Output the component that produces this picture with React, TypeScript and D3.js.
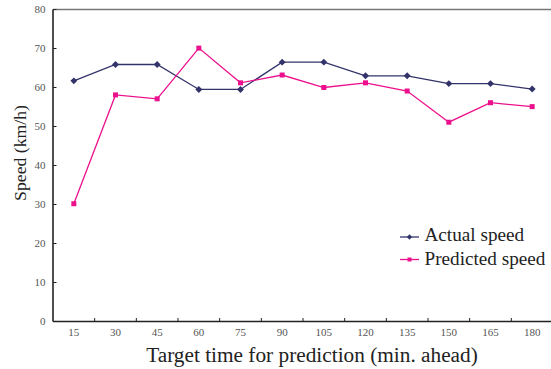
import React from "react";
import * as d3 from "d3";

const categories = ["15", "30", "45", "60", "75", "90", "105", "120", "135", "150", "165", "180"];
const actualSpeed = [61.7, 65.9, 65.9, 59.5, 59.5, 66.5, 66.5, 63.0, 63.0, 61.0, 61.0, 59.6];
const predictedSpeed = [30.2, 58.1, 57.1, 70.1, 61.2, 63.2, 60.0, 61.2, 59.1, 51.1, 56.1, 55.1];
const yTicks = [0, 10, 20, 30, 40, 50, 60, 70, 80];

const W = 551;
const H = 369;
const left = 53;
const top = 9.5;
const bottom = 321.5;
const right = 553;

const ACTUAL = "#33336b";
const PRED = "#ec108c";
const SERIF = "Liberation Serif, Times New Roman, serif";

export default function App() {
  const x = d3.scaleBand<string>().domain(categories).range([left, right]);
  const y = d3.scaleLinear().domain([0, 80]).range([bottom, top]);
  const cx = (c: string) => (x(c) as number) + x.bandwidth() / 2;

  const line = d3
    .line<number>()
    .x((_, i) => cx(categories[i]))
    .y((v) => y(v));

  // square rotated 45° gives an even diamond marker
  const diamond = d3.symbol().type(d3.symbolSquare).size(24)() as string;
  const legendDiamond = d3.symbol().type(d3.symbolSquare).size(14)() as string;

  const txt = { fontFamily: SERIF };

  return (
    <svg width={W} height={H} style={{ position: "absolute", left: 0, top: 0, background: "#fff" }}>
      {/* frame */}
      <line x1={left} x2={W} y1={top} y2={top} stroke="#777" strokeWidth={1.6} />
      <line x1={left} x2={left} y1={top} y2={bottom} stroke="#222" strokeWidth={1.6} />
      <line x1={left} x2={W} y1={bottom} y2={bottom} stroke="#222" strokeWidth={1.6} />

      {/* y ticks */}
      {yTicks.map((t) => (
        <g key={t}>
          <line x1={left} x2={left + 3.5} y1={y(t)} y2={y(t)} stroke="#222" strokeWidth={1} />
          <text x={45.5} y={y(t) + 3.8} textAnchor="end" fontSize={11} fill="#555" style={txt}>
            {t}
          </text>
        </g>
      ))}

      {/* x ticks (between categories) */}
      {categories.slice(1).map((c) => (
        <line
          key={c}
          x1={x(c) as number}
          x2={x(c) as number}
          y1={bottom}
          y2={bottom - 3.5}
          stroke="#222"
          strokeWidth={1}
        />
      ))}
      {categories.map((c) => (
        <text key={c} x={cx(c)} y={bottom + 14} textAnchor="middle" fontSize={11} fill="#555" style={txt}>
          {c}
        </text>
      ))}

      {/* series */}
      <path d={line(actualSpeed) as string} fill="none" stroke={ACTUAL} strokeWidth={1.3} />
      <path d={line(predictedSpeed) as string} fill="none" stroke={PRED} strokeWidth={1.3} />
      {actualSpeed.map((v, i) => (
        <path
          key={i}
          d={diamond}
          transform={`translate(${cx(categories[i])},${y(v)}) rotate(45)`}
          fill={ACTUAL}
        />
      ))}
      {predictedSpeed.map((v, i) => (
        <rect key={i} x={cx(categories[i]) - 2.5} y={y(v) - 2.5} width={5} height={5} fill={PRED} />
      ))}

      {/* legend */}
      <g>
        <line x1={400} x2={419} y1={237} y2={237} stroke={ACTUAL} strokeWidth={1.3} />
        <path d={legendDiamond} transform="translate(409.5,237) rotate(45)" fill={ACTUAL} />
        <text x={424.5} y={241} fontSize={19.2} fill="#222" style={txt}>Actual speed</text>
        <line x1={400} x2={419} y1={259.5} y2={259.5} stroke={PRED} strokeWidth={1.3} />
        <rect x={407.5} y={257.5} width={4} height={4} fill={PRED} />
        <text x={424.5} y={265} fontSize={19.2} fill="#222" style={txt}>Predicted speed</text>
      </g>

      {/* axis titles */}
      <text x={312} y={362} textAnchor="middle" fontSize={21.3} fill="#222" style={txt}>
        Target time for prediction (min. ahead)
      </text>
      <text
        transform="translate(26,153) rotate(-90)"
        textAnchor="middle"
        fontSize={17.7}
        fill="#222"
        style={txt}
      >
        Speed (km/h)
      </text>
    </svg>
  );
}
